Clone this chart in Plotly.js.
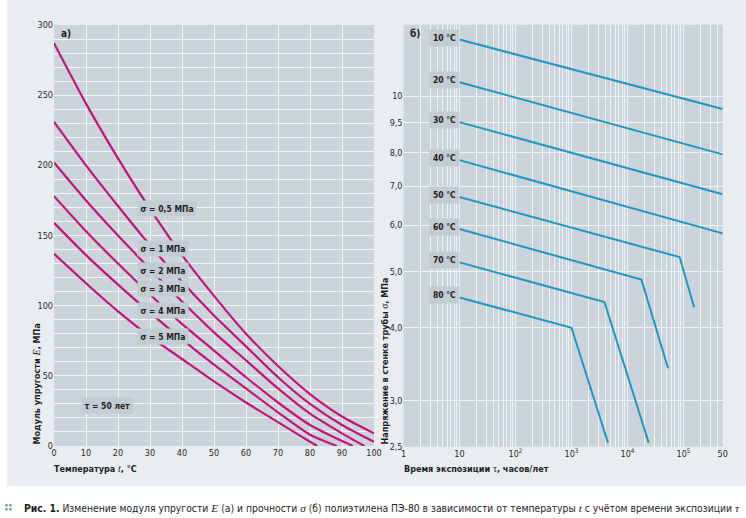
<!DOCTYPE html>
<html><head><meta charset="utf-8">
<script src="https://cdn.plot.ly/plotly-3.0.1.min.js"></script>
<style>html,body{margin:0;padding:0;background:#fff;} #chart{width:746px;height:518px;}
.main-svg text{font-stretch:condensed;}</style>
</head><body><div id="chart"></div>
<script>
// ---------- Panel a): modulus E (MPa) vs temperature t (°C), τ = 50 years ----------
const sigmaLabels = ['σ = 0,5 МПа','σ = 1 МПа','σ = 2 МПа','σ = 3 МПа','σ = 4 МПа','σ = 5 МПа'];
const t_s05 = [0,10,20,30,40,50,60,70,80,90,100];
const E_s05 = [287,244,205,169,136,107,80,57,37,21,9];
const t_s1  = [0,10,20,30,40,50,60,70,80,90,100];
const E_s1  = [231,200,171,143,117,93,71,49,30,15,3];
const t_s2  = [0,10,20,30,40,50,60,70,80,90,97];
const E_s2  = [202,175,150,126,103,81,61,41,23,9,0];
const t_s3  = [0,10,20,30,40,50,60,70,80,90,93.4];
const E_s3  = [178,153,130,108,87,68,49,31,15,3.5,0];
const t_s4  = [0,10,20,30,40,50,60,70,80,88.4];
const E_s4  = [159,136,115,95,76,58,41,24,8,0];
const t_s5  = [0,10,20,30,40,50,60,70,80,82.3];
const E_s5  = [137,116,96,78,62,46,31,17,3,0];
const tauLabel = 'τ = 50 лет';

// ---------- Panel б): stress σ (MPa) vs exposure time τ (hours) ----------
const tempLabels = ['10 °C','20 °C','30 °C','40 °C','50 °C','60 °C','70 °C','80 °C'];
const h_10 = [10, 500000];           const s_10 = [12.5, 9.5];
const h_20 = [10, 500000];           const s_20 = [10.56, 7.94];
const h_30 = [10, 500000];           const s_30 = [9.02, 6.78];
const h_40 = [10, 500000];           const s_40 = [7.76, 5.81];
const h_50 = [10, 85000, 155000];    const s_50 = [6.71, 5.29, 4.34];
const h_60 = [10, 17700, 53000];     const s_60 = [5.91, 4.84, 3.41];
const h_70 = [10, 3880, 23900];      const s_70 = [5.18, 4.43, 2.54];
const h_80 = [10, 1000, 4480];       const s_80 = [4.51, 4.0, 2.54];

const xTickVals2 = [1, 10, 100, 1000, 10000, 100000, 500000];
const xTickText2 = ['1', '10', '10<sup>2</sup>', '10<sup>3</sup>', '10<sup>4</sup>', '10<sup>5</sup>', '50'];
const yTickVals2 = [2.5, 3, 4, 5, 6, 7, 8, 9, 10];
const yTickText2 = ['2,5', '3,0', '4,0', '5,0', '6,0', '7,0', '8,0', '9,5', '10'];

// ---------- styling ----------
const W = 746, H = 518;
const FONT = '"DejaVu Sans Condensed", "DejaVu Sans", sans-serif';
const SERIF = 'Liberation Serif, DejaVu Serif, serif';
const MAG = '#c4137f', BLUE = '#1f97c6';
const GRID = '#f1f4f6';
const BOX = '#c3cbd3';
const px = x => x / W, py = y => 1 - y / H;

const leftT = [t_s05, t_s1, t_s2, t_s3, t_s4, t_s5];
const leftE = [E_s05, E_s1, E_s2, E_s3, E_s4, E_s5];
const rightH = [h_10, h_20, h_30, h_40, h_50, h_60, h_70, h_80];
const rightS = [s_10, s_20, s_30, s_40, s_50, s_60, s_70, s_80];

const traces = [];
leftT.forEach((tt, i) => traces.push({
  x: tt, y: leftE[i], type: 'scatter', mode: 'lines', xaxis: 'x', yaxis: 'y',
  name: sigmaLabels[i], line: {color: MAG, width: 2.2, shape: 'spline', smoothing: 0.6},
  hoverinfo: 'skip'
}));
rightH.forEach((hh, i) => traces.push({
  x: hh, y: rightS[i], type: 'scatter', mode: 'lines', xaxis: 'x2', yaxis: 'y2',
  name: tempLabels[i], line: {color: BLUE, width: 2}, hoverinfo: 'skip'
}));

// minor grid positions for the log time axis (every digit of each decade)
const minorVals2 = [];
for (let d = 0; d <= 5; d++) {
  for (let m = 2; m <= 9; m++) {
    const v = m * Math.pow(10, d);
    if (v >= 500000) break;
    minorVals2.push(v);
  }
}

const tickFont = {family: FONT, size: 9, color: '#2a2a2a'};
const axBase = {showline: false, zeroline: false, ticks: '', ticklen: 0, tickfont: tickFont,
  showgrid: true, gridcolor: GRID, gridwidth: 1, fixedrange: true};

const annotations = [];
const lblFont = {family: FONT, size: 8.5, color: '#1e1e1e'};
// panel a) labels
const sigLabelY = [168.9, 140.4, 125.4, 111.9, 96.6, 77.9];
sigmaLabels.forEach((s, i) => annotations.push({
  xref: 'x', yref: 'y', x: 25.8, y: sigLabelY[i], xanchor: 'left', yanchor: 'middle',
  text: '<b>' + s + '</b>', showarrow: false, bgcolor: BOX, borderpad: 2.5, font: lblFont
}));
annotations.push({xref: 'x', yref: 'y', x: 8.4, y: 29.2, xanchor: 'left', yanchor: 'middle',
  text: '<b>' + tauLabel + '</b>', showarrow: false, bgcolor: BOX, borderpad: 2.5, font: lblFont});
// panel б) labels at line starts
rightS.forEach((ss, i) => annotations.push({
  xref: 'x2', yref: 'y2', x: Math.log10(rightH[i][0]), y: Math.log10(ss[0]),
  xanchor: 'right', yanchor: 'middle', yshift: 2,
  text: '<b>' + tempLabels[i] + '</b>', showarrow: false, bgcolor: BOX, borderpad: 3, font: lblFont
}));
// panel letters
annotations.push({xref: 'paper', yref: 'paper', x: px(59), y: py(33.4), xanchor: 'left', yanchor: 'middle',
  text: '<b>а)</b>', showarrow: false, font: {family: FONT, size: 10, color: '#1e1e1e'}});
annotations.push({xref: 'paper', yref: 'paper', x: px(408), y: py(33.4), xanchor: 'left', yanchor: 'middle',
  text: '<b>б)</b>', showarrow: false, font: {family: FONT, size: 10, color: '#1e1e1e'}});
// axis titles
const titleFont = {family: FONT, size: 9, color: '#1e1e1e'};
const sym = (s, ital) => '<span style="font-family:' + SERIF + ';font-size:10px;' + (ital ? 'font-style:italic;' : '') + 'font-weight:normal">' + s + '</span>';
annotations.push({xref: 'paper', yref: 'paper', x: px(52), y: py(468), xanchor: 'left', yanchor: 'middle',
  text: '<b>Температура ' + sym('t', true) + ', °C</b>', showarrow: false, font: titleFont});
annotations.push({xref: 'paper', yref: 'paper', x: px(402), y: py(468), xanchor: 'left', yanchor: 'middle',
  text: '<b>Время экспозиции ' + sym('τ', false) + ', часов/лет</b>', showarrow: false, font: titleFont});
annotations.push({xref: 'paper', yref: 'paper', x: px(36), y: py(447), xanchor: 'center', yanchor: 'bottom', textangle: -90,
  text: '<b>Модуль упругости ' + sym('E', true) + ', МПа</b>', showarrow: false, font: titleFont});
annotations.push({xref: 'paper', yref: 'paper', x: px(384), y: py(447), xanchor: 'center', yanchor: 'bottom', textangle: -90,
  text: '<b>Напряжение в стенке трубы ' + sym('σ', true) + ', МПа</b>', showarrow: false, font: titleFont});
// caption
const it = s => '<span style="font-family:' + SERIF + ';font-size:11.3px;font-style:italic">' + s + '</span>';
annotations.push({xref: 'paper', yref: 'paper', x: px(22), y: py(507.5), xanchor: 'left', yanchor: 'middle',
  text: '<b>Рис. 1.</b> Изменение модуля упругости ' + it('E') + ' (а) и прочности ' + it('σ') +
        ' (б) полиэтилена ПЭ-80 в зависимости от температуры ' + it('t') + ' с учётом времени экспозиции ' + it('τ'),
  showarrow: false, font: {family: FONT, size: 10.3, color: '#1e1e1e'}});

const shapes = [
  {type: 'rect', xref: 'paper', yref: 'paper', x0: 0, x1: px(7), y0: 0, y1: 1, fillcolor: '#ffffff', line: {width: 0}, layer: 'below'},
  {type: 'rect', xref: 'paper', yref: 'paper', x0: 0, x1: 1, y0: 0, y1: py(486), fillcolor: '#ffffff', line: {width: 0}, layer: 'below'}
];
[[6.5,505.3],[10.5,505.3],[6.5,509.3],[10.5,509.3]].forEach(c => shapes.push({
  type: 'circle', xref: 'paper', yref: 'paper', x0: px(c[0]-1.4), x1: px(c[0]+1.4), y0: py(c[1]+1.4), y1: py(c[1]-1.4),
  fillcolor: '#7f98ae', line: {width: 0}
}));

const layout = {
  width: W, height: H, margin: {l: 0, r: 0, t: 0, b: 0, pad: 0},
  paper_bgcolor: '#e9edf1', plot_bgcolor: '#cbd3db', showlegend: false,
  font: {family: FONT},
  xaxis: Object.assign({}, axBase, {domain: [px(54), px(374)], range: [0, 100], dtick: 10, tick0: 0, anchor: 'y'}),
  yaxis: Object.assign({}, axBase, {domain: [py(446), py(25)], range: [0, 300], dtick: 50, tick0: 0, anchor: 'x',
    minor: {dtick: 10, showgrid: true, gridcolor: GRID, gridwidth: 1, ticks: ''}}),
  xaxis2: Object.assign({}, axBase, {type: 'log', domain: [px(403.5), px(722.7)], range: [0, 5.70], anchor: 'y2',
    tickmode: 'array', tickvals: xTickVals2, ticktext: xTickText2,
    minor: {tickmode: 'array', tickvals: minorVals2, showgrid: true, gridcolor: GRID, gridwidth: 1, ticks: ''}}),
  yaxis2: Object.assign({}, axBase, {type: 'log', domain: [py(446.7), py(24.7)], range: [Math.log10(2.5), 1.1224], anchor: 'x2',
    tickmode: 'array', tickvals: yTickVals2, ticktext: yTickText2}),
  annotations: annotations, shapes: shapes
};

Plotly.newPlot('chart', traces, layout, {staticPlot: true, displayModeBar: false});
</script></body></html>
